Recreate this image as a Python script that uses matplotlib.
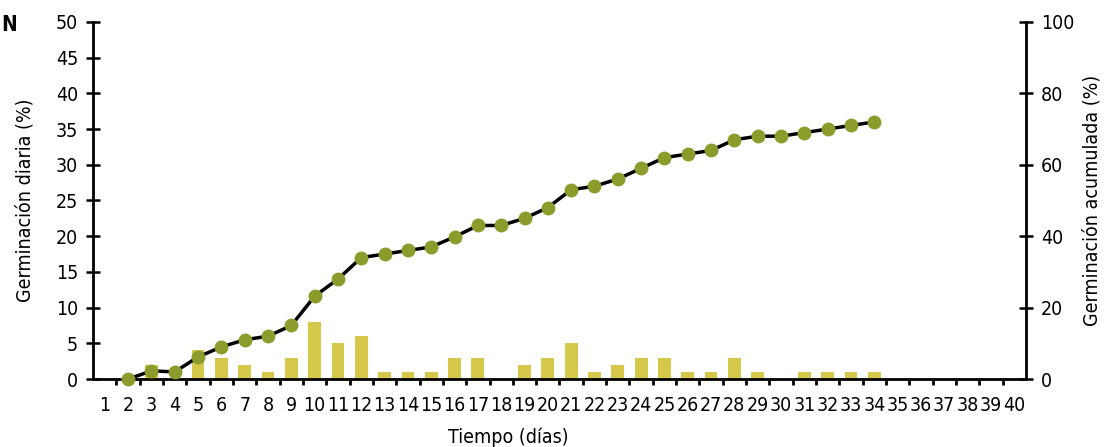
import matplotlib.pyplot as plt
from matplotlib import font_manager

# look for a narrow sans face, like the condensed type of the original
narrow = None
for f in font_manager.fontManager.ttflist:
    fn = f.fname.lower()
    if ('condensed' in fn or 'narrow' in fn) and 'bold' not in fn and 'oblique' not in fn \
            and 'italic' not in fn and 'semi' not in fn and 'extra' not in fn:
        narrow = f
        if 'sans' in fn:
            break

if narrow is not None:
    plt.rcParams['font.family'] = [narrow.name, 'DejaVu Sans']
    plt.rcParams['font.stretch'] = narrow.stretch
else:
    plt.rcParams['font.family'] = ['DejaVu Sans']

days = list(range(1, 41))

# daily germination (%), left axis
bar_days = list(range(1, 35))
daily = [0, 0, 2, 0, 4, 3, 2, 1, 3, 8, 5, 6, 1, 1, 1, 3, 3, 0, 2, 3,
         5, 1, 2, 3, 3, 1, 1, 3, 1, 0, 1, 1, 1, 1]

# cumulative germination (%), right axis
line_days = list(range(2, 35))
cumulative = [0, 2.3, 2, 6.2, 9, 11, 12, 15, 23.2, 28, 34, 35, 36, 37, 39.8, 43, 43,
              45, 48, 53, 54, 56, 59, 62, 63, 64, 67, 68, 68, 69, 70, 71, 72]

bar_color = '#d6c84a'
dot_color = '#8c9c2c'

fig = plt.figure(figsize=(11.09, 4.47), dpi=100)
ax = fig.add_axes([0.084, 0.152, 0.841, 0.799])
ax2 = ax.twinx()

ax.bar(bar_days, daily, width=0.55, color=bar_color, zorder=2)
ax.set_xlim(0.5, 40.5)
ax.set_ylim(0, 50)
ax.set_yticks(range(0, 51, 5))
ax.set_xticks(days)
ax.set_xticks([d + 0.5 for d in days[:-1]], minor=True)
ax.tick_params(axis='x', which='major', length=0, labelsize=14, pad=12)
ax.tick_params(axis='x', which='minor', length=4, width=2, direction='out')
ax.tick_params(axis='y', direction='inout', length=10, width=1.8, labelsize=14, pad=6)
ax.set_ylabel('Germinación diaria (%)', fontsize=14, labelpad=15)
ax.set_xlabel('Tiempo (días)', fontsize=14, labelpad=8)
ax.xaxis.set_label_coords(0.445, -0.135)

ax2.plot(line_days, cumulative, color='black', lw=2.5, marker='o', markersize=9,
         markerfacecolor=dot_color, markeredgecolor=dot_color, clip_on=False, zorder=5)
ax2.set_ylim(0, 100)
ax2.set_yticks(range(0, 101, 20))
ax2.tick_params(axis='y', direction='inout', length=10, width=1.8, labelsize=14, pad=6)
ax2.set_ylabel('Germinación acumulada (%)', fontsize=14, labelpad=6)

for a in (ax, ax2):
    a.spines['top'].set_visible(False)
    for s in ('left', 'right', 'bottom'):
        a.spines[s].set_linewidth(2)
ax.spines['right'].set_visible(False)
ax2.spines['left'].set_visible(False)
ax2.spines['bottom'].set_visible(False)
ax.set_zorder(ax2.get_zorder() - 1)
ax2.patch.set_visible(False)

fig.text(0.001, 0.93, 'N', fontsize=15, fontweight='bold')

fig.savefig('out.png', dpi=100)
